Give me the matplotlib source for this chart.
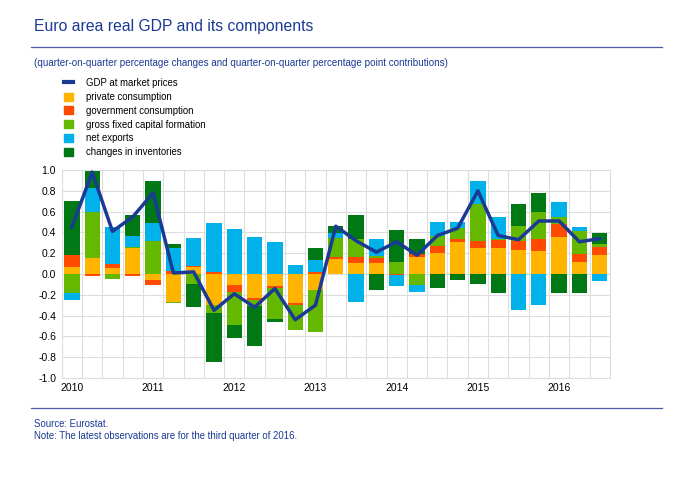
import matplotlib.pyplot as plt
import numpy as np
from matplotlib.patches import Patch
from matplotlib.lines import Line2D

plt.rcParams['font.family'] = ['Liberation Sans', 'DejaVu Sans']

# quarters 2010Q1 .. 2016Q3
years = ['2010', '2011', '2012', '2013', '2014', '2015', '2016']
gdp = [0.45, 0.98, 0.41, 0.55, 0.78, 0.01, 0.02, -0.35, -0.19, -0.32, -0.14, -0.44, -0.30,
       0.46, 0.32, 0.21, 0.31, 0.18, 0.37, 0.44, 0.80, 0.37, 0.33, 0.51, 0.51, 0.31, 0.34]
private = [0.07, 0.15, 0.06, 0.25, -0.06, -0.27, 0.07, -0.30, -0.11, -0.23, -0.12, -0.28, -0.15,
           0.14, 0.11, 0.11, 0.00, 0.16, 0.20, 0.31, 0.25, 0.25, 0.23, 0.22, 0.36, 0.12, 0.18]
government = [0.11, -0.02, 0.04, -0.02, -0.05, 0.03, 0.01, 0.02, -0.06, -0.02, -0.01, -0.02, 0.02,
              0.02, 0.05, 0.04, -0.01, 0.03, 0.07, 0.03, 0.07, 0.08, 0.09, 0.12, 0.12, 0.07, 0.08]
gfcf = [-0.18, 0.45, -0.05, 0.01, 0.32, -0.01, -0.10, -0.08, -0.32, -0.06, -0.30, -0.24, -0.41,
        0.19, 0.18, 0.02, 0.12, -0.11, 0.10, 0.10, 0.35, 0.01, 0.14, 0.26, 0.07, 0.22, 0.03]
net_exports = [-0.07, 0.23, 0.35, 0.11, 0.17, 0.22, 0.27, 0.47, 0.43, 0.36, 0.31, 0.09, 0.11,
               0.04, -0.27, 0.17, -0.11, -0.06, 0.13, 0.06, 0.22, 0.21, -0.35, -0.30, 0.14, 0.04, -0.07]
inventories = [0.52, 0.17, 0.00, 0.20, 0.40, 0.04, -0.22, -0.47, -0.13, -0.38, -0.03, 0.00, 0.12,
               0.07, 0.23, -0.15, 0.30, 0.15, -0.13, -0.06, -0.10, -0.18, 0.21, 0.18, -0.18, -0.18, 0.10]
yticks = [-1.0, -0.8, -0.6, -0.4, -0.2, 0.0, 0.2, 0.4, 0.6, 0.8, 1.0]

series = [private, government, gfcf, net_exports, inventories]
labels = ['private consumption', 'government consumption', 'gross fixed capital formation',
          'net exports', 'changes in inventories']
colors = ['#ffb400', '#ff4b00', '#65b800', '#00b1ea', '#007816']
navy = '#1a3a94'

fig = plt.figure(figsize=(6.86, 4.79), dpi=100)
ax = fig.add_axes([0.090, 0.211, 0.799, 0.434])
x = np.arange(len(gdp))
pos = np.zeros(len(gdp))
neg = np.zeros(len(gdp))
for vals, c in zip(series, colors):
    v = np.array(vals)
    b = np.where(v >= 0, pos, neg)
    ax.bar(x, v, 0.75, bottom=b, color=c, zorder=2)
    pos = pos + np.clip(v, 0, None)
    neg = neg + np.clip(v, None, 0)
ax.plot(x, gdp, color=navy, lw=2.5, zorder=3)

ax.set_xlim(-0.5, len(gdp) - 0.5)
ax.set_ylim(-1.0, 1.0)
ax.set_yticks(yticks)
ax.set_yticklabels([f'{abs(t):.1f}' if t == 0 else f'{t:.1f}' for t in yticks])
ax.set_xticks(np.arange(0, len(gdp), 4))
ax.set_xticklabels(years)
ax.set_xticks(np.arange(-0.5, len(gdp), 1), minor=True)
ax.grid(True, which='major', axis='y', color='#dddddd', lw=0.8, zorder=0)
ax.grid(True, which='minor', axis='x', color='#dddddd', lw=0.8, zorder=0)
ax.tick_params(which='both', length=0, labelsize=7.5, pad=4)
for s in ax.spines.values():
    s.set_color('#dddddd')

fig.text(0.05, 0.935, 'Euro area real GDP and its components', fontsize=11.3, color=navy)
fig.add_artist(Line2D([0.045, 0.965], [0.902, 0.902], color='#4a5aa8', lw=0.9))
fig.text(0.05, 0.862, '(quarter-on-quarter percentage changes and quarter-on-quarter percentage point contributions)',
         fontsize=7.1, color=navy)
handles = [Line2D([0], [0], color=navy, lw=3)] + [Patch(color=c) for c in colors]
fig.legend(handles, ['GDP at market prices'] + labels, loc='upper left', bbox_to_anchor=(0.088, 0.845),
           frameon=False, fontsize=6.9, handlelength=0.9, handleheight=0.9, labelspacing=0.4,
           handletextpad=1.4, borderaxespad=0)
fig.add_artist(Line2D([0.045, 0.965], [0.148, 0.148], color='#4a5aa8', lw=0.9))
fig.text(0.05, 0.108, 'Source: Eurostat.', fontsize=6.9, color=navy)
fig.text(0.05, 0.083, 'Note: The latest observations are for the third quarter of 2016.', fontsize=6.9, color=navy)

fig.savefig('out.png', dpi=100)
